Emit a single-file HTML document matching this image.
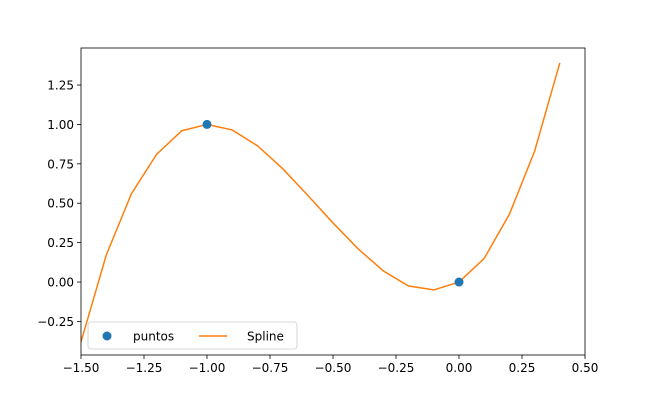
<!DOCTYPE html>
<html><head><meta charset="utf-8"><style>
body{margin:0;background:#fff;}
svg{display:block;font-family:"DejaVu Sans","Liberation Sans",sans-serif;}
</style></head><body>
<svg id="chart" width="650" height="400"></svg>
<script>
const splineX=[-1.5,-1.4,-1.3,-1.2,-1.1,-1.0,-0.9,-0.8,-0.7,-0.6,-0.5,-0.4,-0.3,-0.2,-0.1,0.0,0.1,0.2,0.3,0.4];
const splineY=[-0.38,0.17,0.56,0.81,0.96,1.0,0.965,0.865,0.72,0.55,0.375,0.21,0.07,-0.025,-0.05,0.0,0.15,0.43,0.83,1.39];
const pointsX=[-1.0,0.0];
const pointsY=[1.0,0.0];
const xTicks=[-1.5,-1.25,-1.0,-0.75,-0.5,-0.25,0.0,0.25,0.5];
const xTickLabels=["−1.50","−1.25","−1.00","−0.75","−0.50","−0.25","0.00","0.25","0.50"];
const yTicks=[-0.25,0,0.25,0.5,0.75,1.0,1.25];
const yTickLabels=["−0.25","0.00","0.25","0.50","0.75","1.00","1.25"];

const L=81,R=585,T=48,B=355;
const xMin=-1.5,xMax=0.5,yMin=-0.463,yMax=1.485;
const sx=v=>L+(v-xMin)/(xMax-xMin)*(R-L);
const sy=v=>B-(v-yMin)/(yMax-yMin)*(B-T);
const NS="http://www.w3.org/2000/svg";
const svg=document.getElementById('chart');
function mk(tag,attrs,parent){const e=document.createElementNS(NS,tag);for(const k in attrs)e.setAttribute(k,attrs[k]);(parent||svg).appendChild(e);return e;}

const clip=mk('clipPath',{id:'clip'});mk('rect',{x:L,y:T,width:R-L,height:B-T},clip);

xTicks.forEach((v,i)=>{
  const t=mk('line',{x1:sx(v),x2:sx(v),y1:B,y2:B+4,stroke:'#000','stroke-width':0.8});
  
  
  const tx=mk('text',{x:sx(v),y:B+17,'font-size':12,'text-anchor':'middle',fill:'#000'});
  tx.textContent=xTickLabels[i];
  
  
});
yTicks.forEach((v,i)=>{
  const t=mk('line',{x1:L-4,x2:L,y1:sy(v),y2:sy(v),stroke:'#000','stroke-width':0.8});
  
  
  const tx=mk('text',{x:L-7,y:sy(v)+4.5,'font-size':12,'text-anchor':'end',fill:'#000'});
  tx.textContent=yTickLabels[i];
  
  
});

const line=mk('polyline',{points:splineX.map((x,i)=>sx(x)+','+sy(splineY[i])).join(' '),fill:'none',stroke:'#ff7f0e','stroke-width':1.5,'clip-path':'url(#clip)'});



pointsX.forEach((x,i)=>{
  const c=mk('circle',{cx:sx(x),cy:sy(pointsY[i]),r:4.5,fill:'#1f77b4'});
  
  
});

const frame=mk('rect',{x:L,y:T,width:R-L,height:B-T,fill:'none',stroke:'#000','stroke-width':0.8});



const lg=mk('g',{});


mk('rect',{x:88,y:322,width:209,height:27,rx:3,fill:'#fff',stroke:'#ccc','stroke-width':0.8},lg);
const lp=mk('circle',{cx:107,cy:336,r:4.5,fill:'#1f77b4'},lg);


const t1=mk('text',{x:133,y:340.5,'font-size':12},lg);t1.textContent='puntos';


const ll=mk('line',{x1:199,x2:227,y1:336,y2:336,stroke:'#ff7f0e','stroke-width':1.5},lg);


const t2=mk('text',{x:247,y:340.5,'font-size':12},lg);t2.textContent='Spline';


</script>
</body></html>
